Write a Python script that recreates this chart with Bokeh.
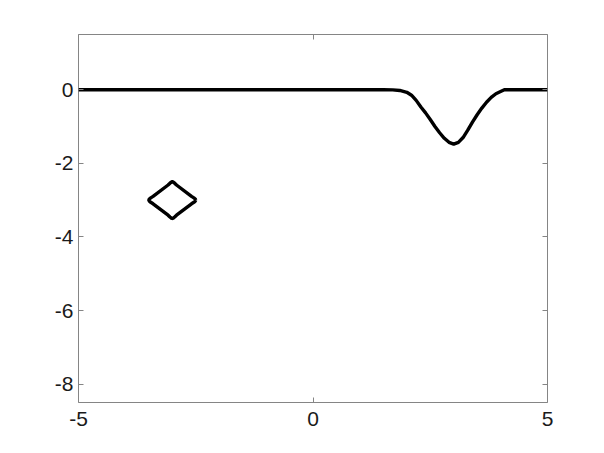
from bokeh.plotting import figure
from bokeh.models import LinearAxis, FixedTicker, Range1d
from bokeh.embed import file_html
from bokeh.resources import INLINE

# ---- data ----
curve_x = [-5.0, 1.5, 1.7, 1.85, 2.0, 2.1, 2.2, 2.3, 2.4, 2.5, 2.6, 2.7, 2.8, 2.9,
           3.0, 3.1, 3.2, 3.3, 3.4, 3.5, 3.6, 3.7, 3.8, 3.9, 4.0, 4.08, 5.0]
curve_y = [0.0, 0.0, -0.005, -0.02, -0.07, -0.15, -0.29, -0.47, -0.63, -0.81, -1.0,
           -1.17, -1.32, -1.43, -1.48, -1.43, -1.3, -1.1, -0.88, -0.68, -0.5, -0.34,
           -0.21, -0.11, -0.05, 0.0, 0.0]

diamond_x = [-2.5, -2.51, -2.54, -2.59, -2.91, -2.95, -2.98, -3.0, -3.02, -3.05, -3.09,
             -3.41, -3.46, -3.49, -3.5, -3.49, -3.46, -3.41, -3.09, -3.05, -3.02, -3.0,
             -2.98, -2.95, -2.91, -2.59, -2.54, -2.51, -2.5]
diamond_y = [-3.0, -2.97, -2.94, -2.9, -2.59, -2.54, -2.51, -2.5, -2.51, -2.54, -2.59,
             -2.9, -2.94, -2.97, -3.0, -3.03, -3.06, -3.1, -3.41, -3.46, -3.49, -3.5,
             -3.49, -3.46, -3.41, -3.1, -3.06, -3.03, -3.0]

x_ticks = [-5, 0, 5]
x_tick_labels = ["-5", "0", "5"]
y_ticks = [-8, -6, -4, -2, 0]
y_tick_labels = ["-8", "-6", "-4", "-2", "0"]
x_limits = (-5, 5)
y_limits = (-8.5, 1.5)

FONT = "Liberation Sans"
GRAY = "#858585"
TEXT = "#1a1a1a"

p = figure(width=596, height=445,
           x_range=Range1d(*x_limits), y_range=Range1d(*y_limits),
           output_backend="svg", toolbar_location=None,
           min_border_left=78, min_border_right=49,
           min_border_top=34, min_border_bottom=43)
p.xgrid.visible = False
p.ygrid.visible = False
p.outline_line_color = GRAY
p.outline_line_width = 1
p.background_fill_color = "white"
p.border_fill_color = "white"

def style(ax, ticks, labels, show_labels=True):
    ax.ticker = FixedTicker(ticks=ticks)
    ax.major_label_overrides = {t: l for t, l in zip(ticks, labels)}
    ax.axis_line_color = None
    ax.major_tick_line_color = GRAY
    ax.major_tick_in = 5
    ax.major_tick_out = 0
    ax.minor_tick_line_color = None
    ax.major_label_text_font = FONT
    ax.major_label_text_font_size = "21px"
    ax.major_label_text_color = TEXT if show_labels else None
    ax.major_label_standoff = 5

style(p.xaxis[0], x_ticks, x_tick_labels)
style(p.yaxis[0], y_ticks, y_tick_labels)
p.xaxis[0].major_label_standoff = 9

top = LinearAxis()
style(top, x_ticks, x_tick_labels, False)
p.add_layout(top, "above")
right = LinearAxis()
style(right, y_ticks, y_tick_labels, False)
p.add_layout(right, "right")

p.line(curve_x, curve_y, line_color="black", line_width=3.4, line_join="round")
p.line(diamond_x, diamond_y, line_color="black", line_width=3.4, line_join="round")

open("out.html", "w").write(file_html(p, INLINE))
